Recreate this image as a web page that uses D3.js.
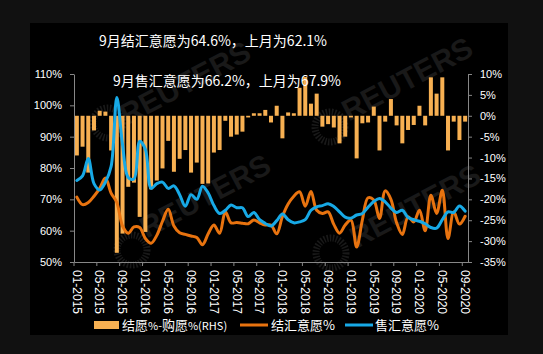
<!DOCTYPE html>
<html>
<head>
<meta charset="utf-8">
<script src="https://cdn.jsdelivr.net/npm/d3@7"></script>
<style>
  body { margin: 0; background: #111111; }
  svg { display: block; }
</style>
</head>
<body>
<div id="container"></div>
<script>
// months on the category axis, Jan 2015 .. Sep 2020
const months = d3.timeMonths(new Date(2015, 0, 1), new Date(2020, 9, 1)).map(d3.timeFormat("%m-%Y"));
const tickLabels = ["01-2015", "05-2015", "09-2015", "01-2016", "05-2016", "09-2016",
  "01-2017", "05-2017", "09-2017", "01-2018", "05-2018", "09-2018",
  "01-2019", "05-2019", "09-2019", "01-2020", "05-2020", "09-2020"];
const leftTicks = [50, 60, 70, 80, 90, 100, 110];
const rightTicks = [-35, -30, -25, -20, -15, -10, -5, 0, 5, 10];

// 结愿%-购愿% (RHS)
const diffRHS = [-9.5, -7.4, -13.6, -3.5, 1.2, 1.0, -8.3, -32.8, -28.2, -17.0,
  -16.0, -24.2, -27.8, -17.6, -15.5, -12.6, -6.0, -13.4, -10.3, -8.2,
  -13.6, -11.2, -16.3, -16.2, -8.8, -8.2, -1.2, -5.0, -4.5, -3.8,
  -0.4, 0.6, 0.6, 1.4, -1.6, 2.4, -5.4, 0.8, 0.6, 6.7,
  9.3, 2.9, 5.3, -2.6, -2.0, -2.8, -6.6, -5.0, -0.4, -10.2,
  -1.8, -1.6, 2.2, -8.3, -1.4, 4.0, -2.3, -6.6, -3.4, -2.2,
  2.4, -2.3, 9.2, 5.3, 9.2, -8.3, -1.4, -5.8, -1.4];
// 结汇意愿%
const jieHui = [70.7, 68.3, 69.0, 71.0, 73.5, 76.8, 72.0, 69.0, 61.5, 59.2,
  61.2, 61.0, 57.5, 56.0, 58.5, 63.0, 66.8, 61.5, 59.3, 58.8,
  58.3, 57.8, 55.5, 59.0, 61.8, 59.2, 66.0, 62.5, 62.6, 62.4,
  62.2, 63.4, 62.5, 61.8, 61.8, 59.0, 64.5, 68.5, 71.0, 72.4,
  67.8, 72.5, 66.5, 65.5, 66.0, 62.0, 59.2, 61.8, 63.4, 54.8,
  63.4, 70.5, 69.8, 63.9, 72.7, 70.0, 62.5, 58.8, 64.4, 62.8,
  66.5, 60.0, 71.3, 65.5, 72.9, 57.5, 66.0, 62.1, 64.6];
// 售汇意愿%
const shouHui = [76.0, 77.5, 83.0, 75.0, 73.0, 75.5, 80.5, 102.5, 87.5, 77.0,
  76.5, 88.5, 86.0, 73.5, 75.0, 75.5, 73.5, 74.3, 71.5, 67.8,
  71.5, 70.0, 74.2, 72.0, 68.0, 65.5, 66.5, 68.2, 67.3, 67.3,
  64.5, 65.8, 63.5, 62.3, 61.5, 63.2, 65.3, 63.5, 62.5, 62.8,
  63.5, 66.5, 67.6, 68.0, 68.6, 67.7, 66.0, 64.3, 64.0, 65.0,
  65.5, 67.5, 69.3, 70.3, 69.2, 67.2, 65.8, 66.5, 64.2, 63.5,
  63.0, 62.2, 61.0, 60.8, 63.5, 66.0, 65.8, 67.9, 66.2];

const titles = ["9月结汇意愿为64.6%，上月为62.1%", "9月售汇意愿为66.2%，上月为67.9%"];
const legendNames = ["结汇意愿%", "售汇意愿%"];

const colBar = "#f7b052";
const colJie = "#e8730f";
const colShou = "#17a9e6";
const colAxis = "#878787";

let w = 543;
let h = 354;

let svg = d3.select("#container").append("svg")
  .attr("width", w)
  .attr("height", h);

// black chart area
svg.append("rect")
  .attr("x", 30).attr("y", 23)
  .attr("width", 478).attr("height", 312)
  .attr("fill", "#000");

// faint watermark
let wm = svg.append("g").attr("fill", "#191919").attr("font-family", "Liberation Sans, Arial, sans-serif")
  .attr("font-weight", "bold").attr("font-size", 30);
[[190, 92], [412, 88], [210, 205], [420, 215]].forEach(p => {
  wm.append("text").attr("text-anchor", "middle")
    .attr("transform", `translate(${p[0]},${p[1]}) rotate(-28)`)
    .text("REUTERS");
});
[[108, 123], [132, 250], [330, 127], [331, 253]].forEach(p => {
  svg.append("circle").attr("cx", p[0]).attr("cy", p[1]).attr("r", 15)
    .attr("fill", "none").attr("stroke", "#191919").attr("stroke-width", 7)
    .attr("stroke-dasharray", "1.5 1.5");
});

// scales
let x = d3.scaleBand()
  .domain(months)
  .range([74, 468])
  .paddingInner(0.3)
  .paddingOuter(0.15);
let yL = d3.scaleLinear().domain([50, 110]).range([262, 74]);
let yR = d3.scaleLinear().domain([-35, 10]).range([262, 74]);

// bars on the right axis
svg.append("g").selectAll("rect")
  .data(diffRHS)
  .join("rect")
  .attr("x", (d, i) => x(months[i]))
  .attr("width", x.bandwidth())
  .attr("y", d => yR(Math.max(0, d)))
  .attr("height", d => Math.abs(yR(d) - yR(0)))
  .attr("fill", colBar);

// smooth lines
let line = d3.line()
  .x((d, i) => x(months[i]) + x.bandwidth() / 2)
  .y(d => yL(d))
  .curve(d3.curveCatmullRom.alpha(0.5));

svg.append("path").datum(jieHui)
  .attr("d", line).attr("fill", "none")
  .attr("stroke", colJie).attr("stroke-width", 3).attr("stroke-linecap", "round");
svg.append("path").datum(shouHui)
  .attr("d", line).attr("fill", "none")
  .attr("stroke", colShou).attr("stroke-width", 3).attr("stroke-linecap", "round");

// axes
let leftAxis = svg.append("g")
  .attr("transform", "translate(74,0)")
  .call(d3.axisLeft(yL).tickValues(leftTicks).tickFormat(d => d + "%").tickSize(4).tickSizeOuter(0).tickPadding(8));
let rightAxis = svg.append("g")
  .attr("transform", "translate(468,0)")
  .call(d3.axisRight(yR).tickValues(rightTicks).tickFormat(d => d + "%").tickSize(4).tickSizeOuter(0).tickPadding(8));
let bottomAxis = svg.append("g")
  .attr("transform", "translate(0,262)")
  .call(d3.axisBottom(x).tickValues(tickLabels).tickSize(4).tickSizeOuter(0).tickPadding(0));

// tick marks sit between categories
bottomAxis.selectAll(".tick line").attr("transform", `translate(${-x.step() / 2},0)`);
bottomAxis.selectAll(".tick text")
  .attr("transform", "rotate(90)")
  .attr("text-anchor", "start")
  .attr("x", 8)
  .attr("y", 0)
  .attr("dy", "0.35em")
  .attr("font-size", 12);

[leftAxis, rightAxis, bottomAxis].forEach(a => {
  a.selectAll("path, line").attr("stroke", colAxis);
  a.selectAll("text").attr("fill", "#fff").attr("font-family", "Liberation Sans, Arial, sans-serif");
});
leftAxis.selectAll("text").attr("font-size", 11);
rightAxis.selectAll("text").attr("font-size", 11);

// titles
svg.append("text").attr("x", 99).attr("y", 46)
  .attr("fill", "#fff").attr("font-family", "Noto Sans CJK SC").attr("font-size", 14)
  .text(titles[0]);
svg.append("text").attr("x", 113).attr("y", 86)
  .attr("fill", "#fff").attr("font-family", "Noto Sans CJK SC").attr("font-size", 14)
  .text(titles[1]);

// legend
let legend = svg.append("g").attr("font-family", "Noto Sans CJK SC").attr("font-size", 13).attr("fill", "#fff");
legend.append("rect").attr("x", 94).attr("y", 321).attr("width", 25).attr("height", 8).attr("fill", colBar);
let t0 = legend.append("text").attr("x", 122).attr("y", 325).attr("dy", "0.35em");
t0.append("tspan").text("结愿");
t0.append("tspan").attr("font-size", 11).text("%-");
t0.append("tspan").text("购愿");
t0.append("tspan").attr("font-size", 11).text("%(RHS)");
legend.append("line").attr("x1", 240).attr("x2", 268).attr("y1", 325).attr("y2", 325)
  .attr("stroke", colJie).attr("stroke-width", 3);
legend.append("text").attr("x", 271).attr("y", 325).attr("dy", "0.35em").text(legendNames[0]);
legend.append("line").attr("x1", 345).attr("x2", 373).attr("y1", 325).attr("y2", 325)
  .attr("stroke", colShou).attr("stroke-width", 3);
legend.append("text").attr("x", 375).attr("y", 325).attr("dy", "0.35em").text(legendNames[1]);
</script>
</body>
</html>
